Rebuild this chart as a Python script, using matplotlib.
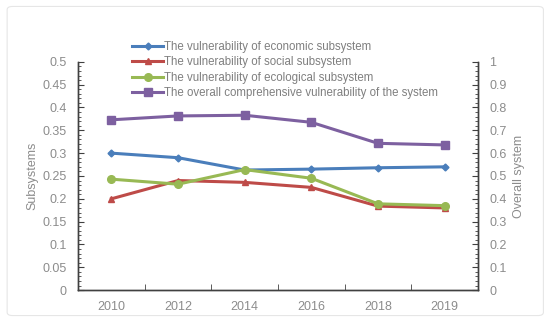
import numpy as np
import matplotlib.pyplot as plt
from matplotlib.ticker import MultipleLocator
from matplotlib.patches import FancyBboxPatch

plt.rcParams['font.family'] = ['Liberation Sans', 'DejaVu Sans']

years = ['2010', '2012', '2014', '2016', '2018', '2019']
economic = [0.300, 0.290, 0.263, 0.265, 0.268, 0.270]
social = [0.200, 0.240, 0.236, 0.225, 0.184, 0.180]
ecological = [0.243, 0.232, 0.264, 0.245, 0.189, 0.185]
overall = [0.746, 0.763, 0.766, 0.735, 0.643, 0.636]

labels = ['The vulnerability of economic subsystem',
          'The vulnerability of social subsystem',
          'The vulnerability of ecological subsystem',
          'The overall comprehensive vulnerability of the system']

gray = '#8c8c8c'
axcol = '#404040'

fig = plt.figure(figsize=(5.5, 3.22), dpi=100)
fig.patches.append(FancyBboxPatch((0.013, 0.02), 0.975, 0.96, boxstyle='round,pad=0,rounding_size=0.01',
                                  transform=fig.transFigure, fc='white', ec='#e6e6e6', lw=0.8, zorder=-1))
ax = fig.add_axes([0.142, 0.099, 0.727, 0.709])
ax2 = ax.twinx()
x = np.arange(len(years))

h1, = ax.plot(x, economic, color='#4a7ebb', lw=2.2, marker='D', ms=3.5, label=labels[0])
h2, = ax.plot(x, social, color='#be4b48', lw=2.2, marker='^', ms=5, label=labels[1])
h3, = ax.plot(x, ecological, color='#98b954', lw=2.2, marker='o', ms=5.5, label=labels[2])
h4, = ax2.plot(x, overall, color='#7d60a0', lw=2.2, marker='s', ms=5.5, label=labels[3])

ax.set_xlim(-0.5, len(years) - 0.5)
ax.set_ylim(0, 0.5)
ax2.set_ylim(0, 1)
ax.yaxis.set_major_locator(MultipleLocator(0.05))
ax.yaxis.set_minor_locator(MultipleLocator(0.01))
ax2.yaxis.set_major_locator(MultipleLocator(0.1))
ax2.yaxis.set_minor_locator(MultipleLocator(0.02))
ax.set_xticks(x)
ax.set_xticklabels(years)
ax.set_xticks(np.arange(0.5, len(years) - 0.5, 1), minor=True)
ax.tick_params(axis='x', which='major', length=0, colors=gray, labelsize=9, pad=8)
ax.tick_params(axis='x', which='minor', direction='in', length=4, color=axcol)
ax.tick_params(axis='y', which='major', direction='in', length=4, color=axcol, labelcolor=gray, labelsize=9, pad=8)
ax.tick_params(axis='y', which='minor', direction='in', length=2.5, color=axcol)
ax2.tick_params(axis='y', which='major', direction='in', length=4, color=axcol, labelcolor=gray, labelsize=9, pad=8)
ax2.tick_params(axis='y', which='minor', direction='in', length=2.5, color=axcol)
ax.set_yticklabels([f'{v:g}' for v in ax.get_yticks()])
ax2.set_yticklabels([f'{v:g}' for v in ax2.get_yticks()])

for a in (ax, ax2):
    a.spines['top'].set_visible(False)
    for s in ('left', 'right', 'bottom'):
        a.spines[s].set_color(axcol)
        a.spines[s].set_linewidth(1.0)

ax.set_ylabel('Subsystems', color=gray, fontsize=9, labelpad=3)
ax2.set_ylabel('Overall system', color=gray, fontsize=9, labelpad=5)

leg = fig.legend(handles=[h1, h2, h3, h4], loc='upper left', bbox_to_anchor=(0.232, 0.888),
                 frameon=False, fontsize=8.3, handlelength=2.7, handletextpad=0.1,
                 labelspacing=0.3, borderaxespad=0)
for t in leg.get_texts():
    t.set_color('#7f7f7f')

plt.savefig('out.png', dpi=100)
